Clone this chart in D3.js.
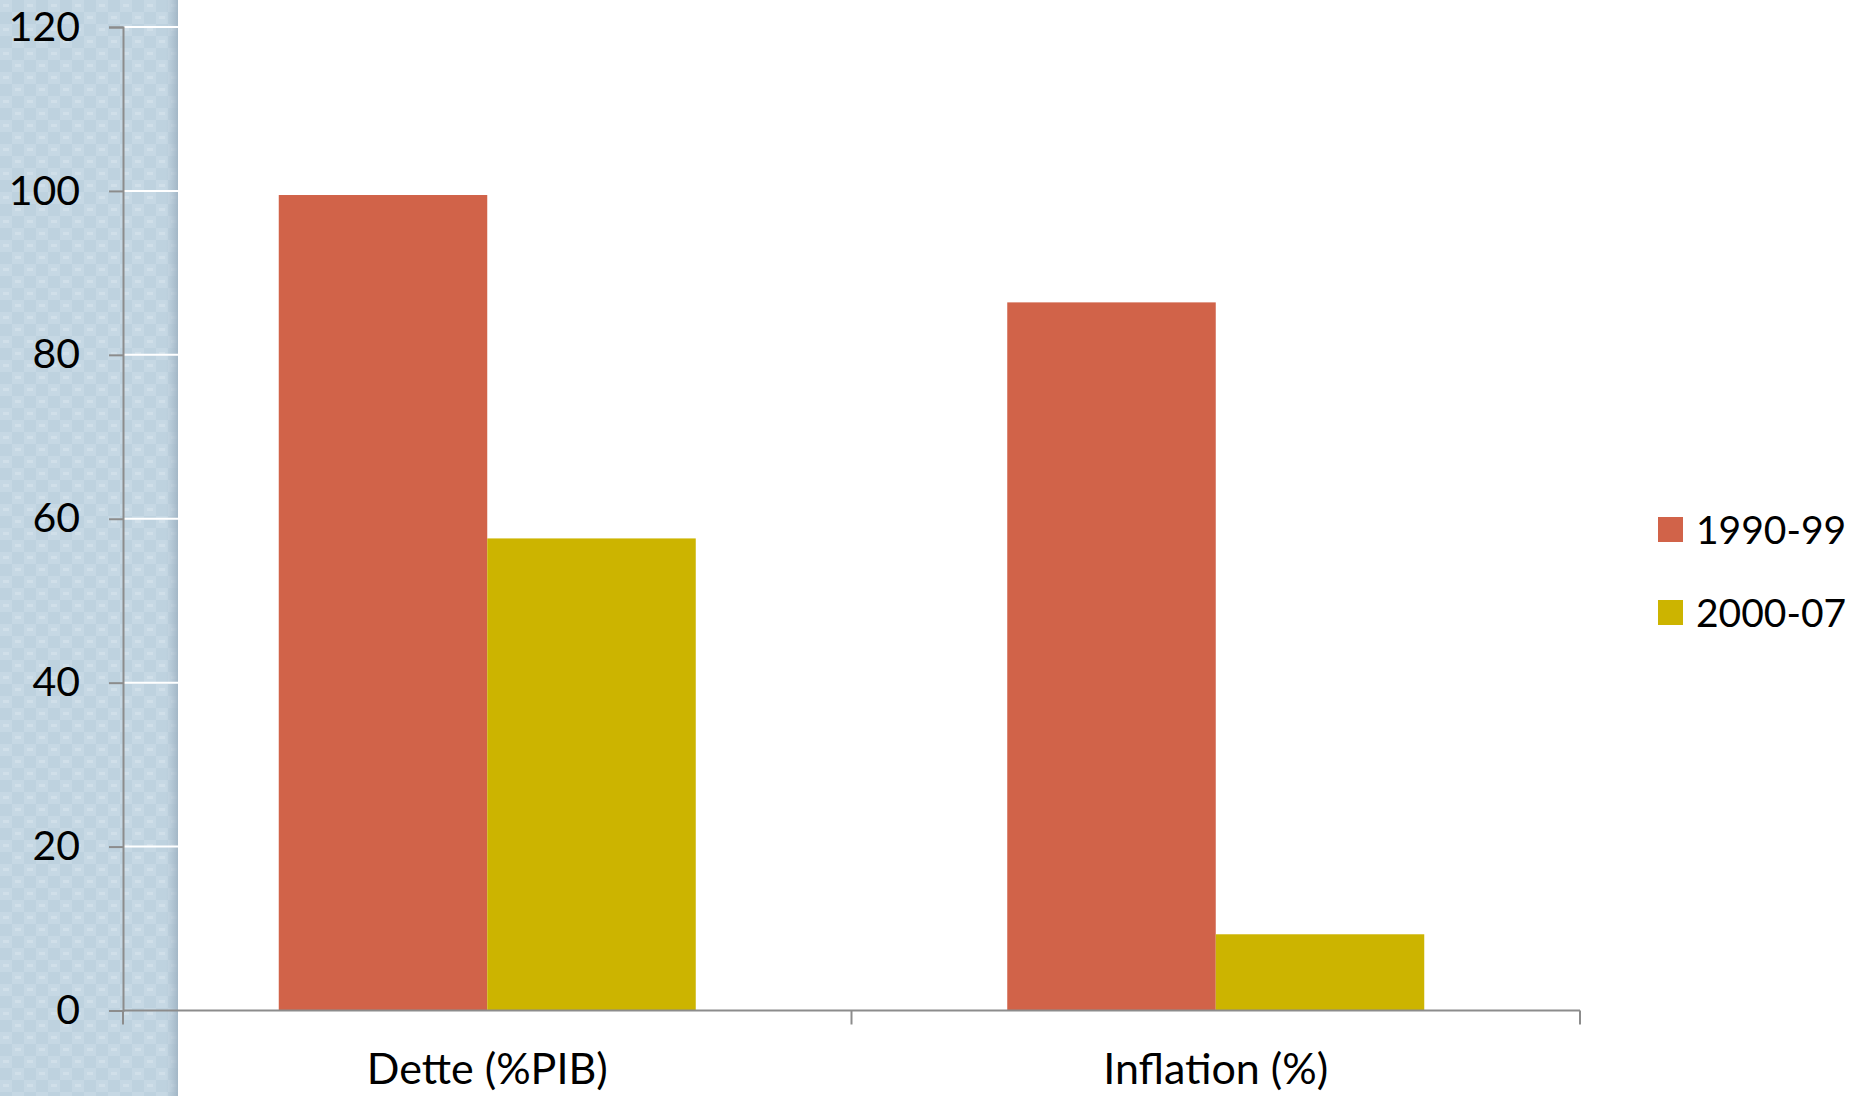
<!DOCTYPE html>
<html><head><meta charset="utf-8">
<script src="https://cdn.jsdelivr.net/npm/d3@7"></script>
<style>html,body{margin:0;padding:0;background:#fff;overflow:hidden}</style>
</head><body>
<svg id="chart" width="1862" height="1096"></svg>
<script>
const categories = ["Dette (%PIB)", "Inflation (%)"];
const series = ["1990-99", "2000-07"];
const values1990 = [99.5, 86.4];
const values2000 = [57.6, 9.3];
const yTicks = [0, 20, 40, 60, 80, 100, 120];
const colors = ["#d16349", "#ccb400"];

const svg = d3.select("#chart");
const W = 1862, H = 1096;
const font = "'Gill Sans', 'Gill Sans MT', Lato, 'Open Sans', sans-serif";

// background strip with subtle pattern
const defs = svg.append("defs");
const pat = defs.append("pattern").attr("id","tex").attr("patternUnits","userSpaceOnUse").attr("width",24).attr("height",24);
pat.append("rect").attr("width",24).attr("height",24).attr("fill","#bed2df");
pat.append("rect").attr("x",0).attr("y",0).attr("width",12).attr("height",12).attr("fill","#c6d8e4");
pat.append("rect").attr("x",12).attr("y",12).attr("width",12).attr("height",12).attr("fill","#c6d8e4");
pat.append("rect").attr("x",3).attr("y",4).attr("width",6).attr("height",3).attr("fill","#d0dfe9");
pat.append("rect").attr("x",15).attr("y",16).attr("width",6).attr("height",3).attr("fill","#d0dfe9");
const grad = defs.append("linearGradient").attr("id","edge").attr("x1","0").attr("x2","1");
grad.append("stop").attr("offset","0").attr("stop-color","#a9bccb").attr("stop-opacity",0);
grad.append("stop").attr("offset","1").attr("stop-color","#9fb3c3").attr("stop-opacity",0.9);
svg.append("rect").attr("x",0).attr("y",0).attr("width",178).attr("height",H).attr("fill","url(#tex)");
svg.append("rect").attr("x",166).attr("y",0).attr("width",12).attr("height",H).attr("fill","url(#edge)");

const x0 = d3.scaleBand().domain(categories).range([123, 1580]).paddingInner(0).paddingOuter(0);
const x1 = d3.scaleBand().domain(series).range([0, x0.bandwidth()]).paddingInner(0).paddingOuter(0.747);
const y = d3.scaleLinear().domain([0, 120]).range([1010.5, 27]);

// gridlines
svg.append("g").selectAll("line").data(yTicks.filter(d => d > 0)).join("line")
  .attr("x1", 124).attr("x2", 1580)
  .attr("y1", d => y(d)).attr("y2", d => y(d))
  .attr("stroke", "#ffffff").attr("stroke-width", 2);

// bars
const data = categories.map((c, i) => ({cat: c, vals: [values1990[i], values2000[i]]}));
const g = svg.append("g").selectAll("g").data(data).join("g")
  .attr("transform", d => `translate(${x0(d.cat)},0)`);
g.selectAll("rect").data(d => d.vals.map((v, j) => ({s: series[j], v, j}))).join("rect")
  .attr("x", d => x1(d.s)).attr("width", x1.bandwidth())
  .attr("y", d => y(d.v)).attr("height", d => y(0) - y(d.v))
  .attr("fill", d => colors[d.j]);

// y axis
const yAxis = d3.axisLeft(y).tickValues(yTicks).tickSize(14).tickPadding(29);
const ya = svg.append("g").attr("transform", "translate(123,0)").call(yAxis);
ya.select(".domain").attr("stroke", "#8c8c8c").attr("stroke-width", 2);
ya.selectAll(".tick line").attr("stroke", "#8c8c8c").attr("stroke-width", 2);
ya.selectAll(".tick text").attr("fill", "#000").style("font-family", font).style("font-size", "41px");

// x axis
const xAxisLine = svg.append("g");
xAxisLine.append("line").attr("x1", 123).attr("x2", 1580).attr("y1", y(0)).attr("y2", y(0))
  .attr("stroke", "#8c8c8c").attr("stroke-width", 2);
const xTickPos = [x0(categories[0]), x0(categories[1]), x0(categories[1]) + x0.bandwidth()];
xAxisLine.selectAll("line.t").data(xTickPos).join("line").attr("class","t")
  .attr("x1", d => d).attr("x2", d => d).attr("y1", y(0)).attr("y2", y(0) + 14)
  .attr("stroke", "#8c8c8c").attr("stroke-width", 2);
xAxisLine.selectAll("text").data(categories).join("text")
  .attr("x", d => x0(d) + x0.bandwidth() / 2).attr("y", 1084)
  .attr("text-anchor", "middle").style("font-family", font).style("font-size", "43px").attr("fill", "#000")
  .text(d => d);

// legend
const lg = svg.append("g").selectAll("g").data(series).join("g")
  .attr("transform", (d, i) => `translate(1658,${517 + i * 83})`);
lg.append("rect").attr("width", 25).attr("height", 25).attr("fill", (d, i) => colors[i]);
lg.append("text").attr("x", 38).attr("y", 27).style("font-family", font).style("font-size", "39px").attr("fill", "#000").text(d => d);
</script>
</body></html>
